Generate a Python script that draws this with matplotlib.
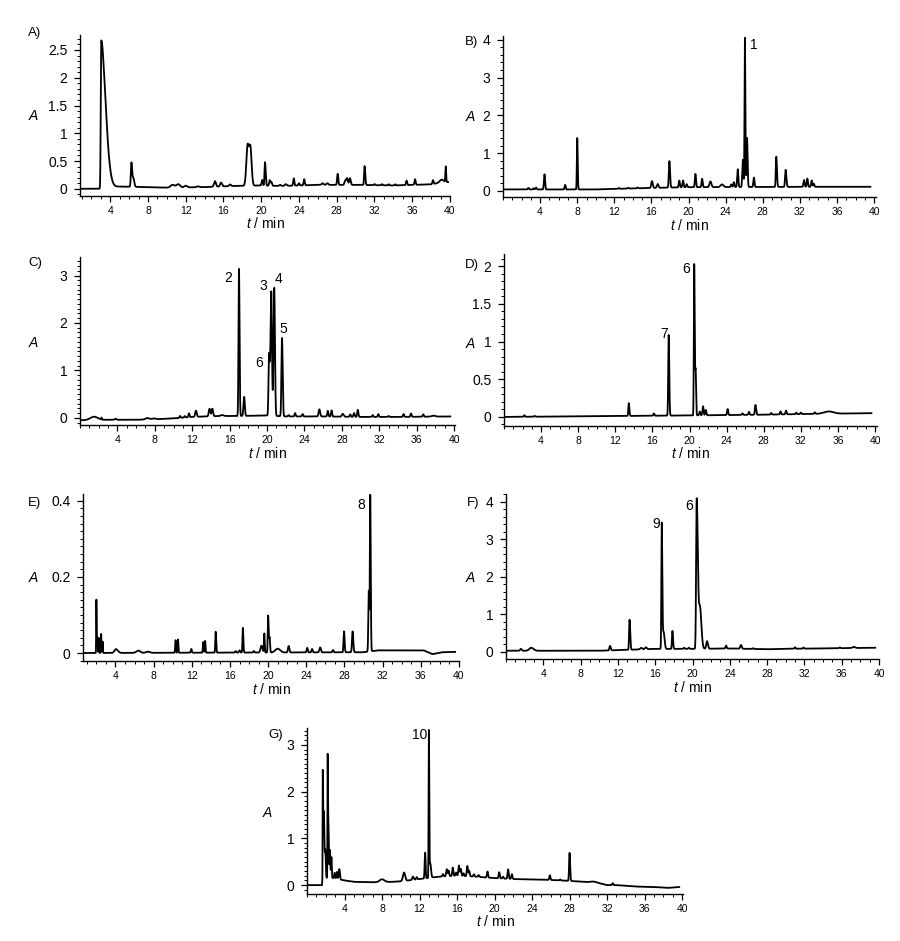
import numpy as np
import matplotlib
matplotlib.use("Agg")
import matplotlib.pyplot as plt
from matplotlib.ticker import MultipleLocator, FuncFormatter

plt.rcParams['font.family'] = ['Liberation Sans', 'DejaVu Sans']
plt.rcParams['mathtext.fontset'] = 'custom'
plt.rcParams['mathtext.it'] = 'Liberation Sans:italic'
plt.rcParams['mathtext.rm'] = 'Liberation Sans'

# ---------------- data: peaks (time/min, height, left width, right width) ----------------
W = 0.06
peaks_A = [(3.05, 2.62, 0.05, 0.35), (3.6, 0.5, 0.2, 0.35), (6.25, 0.44, 0.06, 0.08), (6.45, 0.15, 0.06, 0.1),
           (10.6, 0.05, 0.2, 0.2), (11.2, 0.06, 0.2, 0.2), (12.0, 0.03, 0.15, 0.15), (13.3, 0.015, 0.15, 0.15),
           (15.1, 0.1, 0.1, 0.1), (15.75, 0.07, 0.1, 0.1), (16.7, 0.03, 0.1, 0.1),
           (18.55, 0.7, 0.13, 0.13), (18.85, 0.68, 0.13, 0.13),
           (20.1, 0.1, W, W), (20.4, 0.42, 0.05, 0.07), (20.9, 0.1, W, 0.08), (21.1, 0.06, W, W),
           (22.0, 0.02, 0.1, 0.1), (22.6, 0.03, 0.1, 0.1), (23.45, 0.13, W, W), (24.0, 0.04, W, W),
           (24.55, 0.11, W, W), (26.5, 0.03, 0.1, 0.1), (27.0, 0.03, 0.1, 0.1),
           (28.1, 0.2, W, W), (28.9, 0.08, 0.08, 0.08), (29.1, 0.12, 0.08, 0.08), (29.4, 0.12, 0.08, 0.08),
           (30.95, 0.34, 0.05, 0.07), (32.0, 0.02, W, W), (32.8, 0.02, W, W), (33.5, 0.02, W, W), (34.2, 0.02, W, W),
           (35.4, 0.08, W, W), (36.3, 0.1, W, W), (38.2, 0.07, W, W), (39.1, 0.05, 0.2, 0.2), (39.55, 0.28, 0.04, 0.04)]
baseline_A = [(0.8, 0.0), (2.9, 0.0), (3.0, 0.04), (5, 0.04), (8, 0.03), (10, 0.02), (14, 0.03), (17, 0.05),
              (20, 0.06), (22, 0.05), (26, 0.07), (30, 0.07), (34, 0.06), (38, 0.08), (39.3, 0.12), (39.8, 0.12)]

peaks_B = [(2.74, 0.04, W, W), (3.3, 0.03, W, W), (3.57, 0.05, W, W), (4.47, 0.4, W, W), (6.7, 0.12, W, W),
           (8.0, 1.36, 0.04, 0.05), (12.5, 0.02, W, W), (13.5, 0.02, W, W), (14.5, 0.02, W, W),
           (16.06, 0.18, 0.08, 0.08), (16.67, 0.1, 0.08, 0.08), (17.93, 0.7, W, 0.07), (19.0, 0.18, W, W),
           (19.4, 0.18, W, W), (19.8, 0.08, W, W), (20.74, 0.35, W, W), (21.46, 0.22, W, W),
           (22.36, 0.15, 0.1, 0.1), (23.6, 0.07, 0.15, 0.15), (24.6, 0.07, W, W), (24.88, 0.13, W, W),
           (25.3, 0.47, W, W), (25.85, 0.72, W, W), (26.07, 3.95, 0.04, 0.05), (26.3, 1.3, 0.05, 0.06),
           (27.04, 0.25, W, W), (29.45, 0.8, 0.05, 0.07), (30.46, 0.45, W, 0.08), (32.44, 0.18, W, W),
           (32.8, 0.22, W, W), (33.27, 0.17, W, W), (33.5, 0.08, W, W)]
baseline_B = [(0, 0.04), (10, 0.04), (13, 0.06), (16, 0.08), (20, 0.1), (34, 0.11), (39.6, 0.11)]

peaks_C = [(1.5, 0.07, 0.4, 0.4), (2.3, 0.04, 0.03, 0.03), (3.8, 0.02, 0.1, 0.1), (7.2, 0.03, 0.2, 0.2),
           (7.9, 0.02, 0.2, 0.2), (10.7, 0.04, W, W), (11.2, 0.03, W, W), (11.65, 0.08, W, W),
           (12.4, 0.13, 0.08, 0.08), (13.85, 0.16, 0.08, 0.08), (14.15, 0.16, 0.08, 0.08), (15.2, 0.02, 0.15, 0.15),
           (17.0, 3.1, 0.05, 0.06), (17.55, 0.4, 0.07, 0.07), (20.22, 1.3, 0.06, 0.08), (20.45, 2.6, 0.075, 0.075),
           (20.77, 2.7, 0.075, 0.075), (21.6, 1.65, W, 0.07), (22.3, 0.03, W, W), (23.0, 0.07, W, W),
           (23.8, 0.05, W, W), (25.6, 0.15, 0.08, 0.08), (26.5, 0.12, W, W), (26.9, 0.13, W, W),
           (28.1, 0.06, 0.1, 0.1), (28.9, 0.05, W, W), (29.3, 0.08, W, W), (29.7, 0.15, W, W), (31.3, 0.04, W, W),
           (31.9, 0.06, W, W), (33.0, 0.02, W, W), (34.6, 0.06, W, W), (35.4, 0.07, W, W), (36.7, 0.05, W, W),
           (37.8, 0.02, 0.2, 0.2)]
baseline_C = [(0, -0.05), (3, -0.04), (6, -0.04), (8, -0.03), (10, -0.01), (12, 0.02), (15, 0.04), (17, 0.04),
              (20, 0.05), (22, 0.03), (26, 0.03), (30, 0.02), (34, 0.02), (39.6, 0.03)]

peaks_D = [(2.2, 0.02, W, W), (3.3, 0.01, W, W), (13.45, 0.17, 0.05, W), (16.15, 0.03, W, W),
           (17.75, 1.07, 0.05, W), (20.5, 2.0, 0.04, 0.05), (20.65, 0.6, 0.05, 0.05), (21.1, 0.05, W, W),
           (21.45, 0.12, W, W), (21.75, 0.07, W, W), (24.1, 0.08, W, W), (25.7, 0.02, W, W), (26.4, 0.04, W, W),
           (27.1, 0.13, W, 0.07), (28.8, 0.02, W, W), (29.8, 0.04, W, W), (30.4, 0.05, W, W), (31.5, 0.02, W, W),
           (32.0, 0.02, W, W), (33.5, 0.02, W, W), (35.0, 0.03, 0.5, 0.5)]
baseline_D = [(0, 0.0), (10, 0.01), (20, 0.02), (28, 0.03), (33, 0.04), (39.6, 0.05)]

peaks_E = [(2.0, 0.14, 0.02, 0.03), (2.1, 0.04, 0.03, 0.03), (2.25, 0.04, 0.03, 0.03), (2.5, 0.05, 0.03, 0.03),
           (2.65, 0.03, 0.03, 0.03), (4.05, 0.01, 0.15, 0.2), (6.4, 0.006, 0.2, 0.2), (7.4, 0.003, 0.2, 0.2),
           (10.3, 0.033, 0.04, 0.04), (10.55, 0.035, 0.04, 0.04), (11.95, 0.01, 0.05, 0.05),
           (13.2, 0.028, 0.04, 0.04), (13.4, 0.031, 0.04, 0.04), (14.5, 0.055, 0.04, 0.05), (16.6, 0.004, W, W),
           (17.0, 0.006, W, W), (17.35, 0.065, 0.04, 0.05), (18.5, 0.004, W, W), (19.3, 0.018, 0.1, 0.1),
           (19.6, 0.05, 0.04, 0.04), (20.0, 0.097, 0.04, 0.05), (20.15, 0.04, 0.05, 0.05), (21.0, 0.01, 0.25, 0.25),
           (22.15, 0.017, 0.07, 0.07), (24.1, 0.012, W, W), (24.6, 0.009, W, W), (25.45, 0.013, 0.08, 0.08),
           (26.8, 0.006, W, W), (27.95, 0.055, 0.05, W), (28.85, 0.055, W, 0.07), (30.55, 0.16, 0.05, 0.05),
           (30.7, 0.41, 0.04, 0.05)]
baseline_E = [(0.6, 0.0), (30, 0.002), (31.5, 0.007), (36.3, 0.007), (37.2, -0.003), (38.2, 0.002), (39.6, 0.003)]

peaks_F = [(1.6, 0.05, 0.08, 0.08), (2.7, 0.08, 0.2, 0.25), (11.15, 0.12, W, 0.08), (13.25, 0.8, 0.05, 0.07),
           (14.5, 0.04, 0.1, 0.1), (15.0, 0.05, 0.1, 0.1), (16.7, 3.35, 0.04, W), (16.9, 0.45, 0.08, 0.1),
           (17.85, 0.48, 0.05, W), (19.1, 0.03, W, W), (19.6, 0.03, W, W), (20.45, 4.0, 0.06, 0.12),
           (20.8, 1.1, 0.12, 0.15), (21.55, 0.2, 0.08, 0.1), (23.6, 0.08, W, W), (25.2, 0.1, 0.08, 0.08),
           (26.5, 0.02, W, W), (31.0, 0.04, W, W), (31.9, 0.03, W, W), (35.8, 0.02, W, W), (37.3, 0.03, 0.15, 0.15)]
baseline_F = [(0, 0.03), (10, 0.03), (16, 0.08), (20, 0.08), (24, 0.09), (28, 0.07), (30, 0.08), (39.6, 0.11)]

peaks_G = [(1.68, 2.3, 0.015, 0.04), (1.8, 1.4, 0.04, 0.05), (1.95, 0.6, 0.05, 0.05), (2.2, 2.3, 0.02, 0.03),
           (2.28, 1.2, 0.05, 0.05), (2.45, 0.6, 0.04, 0.04), (2.6, 0.45, 0.04, 0.04), (2.95, 0.12, 0.05, 0.05),
           (3.2, 0.15, 0.05, 0.05), (3.45, 0.22, W, W), (8.0, 0.06, 0.25, 0.25), (10.35, 0.18, 0.12, 0.12),
           (11.3, 0.07, 0.08, 0.08), (11.7, 0.05, W, W), (12.6, 0.55, 0.05, 0.05), (13.0, 3.15, 0.03, 0.04),
           (13.15, 0.3, W, 0.08), (14.5, 0.05, W, W), (14.9, 0.15, W, W), (15.1, 0.12, W, W), (15.55, 0.18, W, W),
           (15.9, 0.07, W, W), (16.2, 0.22, W, W), (16.4, 0.15, W, W), (16.7, 0.06, W, W), (17.1, 0.22, W, W),
           (17.3, 0.12, W, W), (17.8, 0.05, W, W), (18.3, 0.04, W, W), (19.25, 0.13, W, W), (20.5, 0.13, W, W),
           (20.9, 0.04, W, W), (21.45, 0.2, W, W), (21.85, 0.1, W, W), (25.9, 0.1, W, W), (27.0, 0.02, W, W),
           (28.0, 0.6, 0.05, W), (30.5, 0.02, 0.3, 0.3), (32.6, 0.04, W, W)]
baseline_G = [(0, 0.0), (1.6, 0.0), (1.65, 0.15), (2.8, 0.15), (4, 0.1), (5, 0.07), (7, 0.06), (9, 0.07),
              (10, 0.08), (12, 0.13), (14, 0.18), (16, 0.2), (18, 0.18), (20, 0.15), (22, 0.13), (24, 0.12),
              (26, 0.11), (28, 0.09), (29.5, 0.07), (31, 0.05), (32, 0.0), (33, 0.0), (35, -0.03), (37, -0.04),
              (38.5, -0.06), (39.7, -0.04)]

# peak number labels: (text, time, absorbance)
labels_B = [("1", 27.0, 3.85)]
labels_C = [("2", 15.8, 2.94), ("3", 19.55, 2.77), ("4", 21.26, 2.93), ("5", 21.76, 1.87), ("6", 19.2, 1.16)]
labels_D = [("7", 17.25, 1.1), ("6", 19.65, 1.96)]
labels_E = [("8", 29.75, 0.39)]
labels_F = [("9", 16.1, 3.41), ("6", 19.68, 3.9)]
labels_G = [("10", 11.98, 3.21)]

panel_names = ["A)", "B)", "C)", "D)", "E)", "F)", "G)"]
x_ticks = [4, 8, 12, 16, 20, 24, 28, 32, 36, 40]
y_ticks_A = [0, 0.5, 1, 1.5, 2, 2.5]
y_ticks_B = [0, 1, 2, 3, 4]
y_ticks_C = [0, 1, 2, 3]
y_ticks_D = [0, 0.5, 1, 1.5, 2]
y_ticks_E = [0, 0.2, 0.4]
y_ticks_F = [0, 1, 2, 3, 4]
y_ticks_G = [0, 1, 2, 3]

# ---------------- layout (pixels) ----------------
FW, FH = 900, 941
fig = plt.figure(figsize=(FW / 100, FH / 100), dpi=100)


def trace(peaks, baseline, t0, t1):
    t = np.arange(t0, t1, 0.004)
    bt, bv = zip(*baseline)
    y = np.interp(t, bt, bv)
    for (c, h, wl, wr) in peaks:
        s = np.where(t < c, wl, wr)
        y = y + h * np.exp(-0.5 * ((t - c) / s) ** 2)
    return t, y


panels = [
    # name, peaks, baseline, labels, yticks, minor, box(l, r, top, bottom), xlim, ylim, A-label pos, trace range, name pos
    (panel_names[0], peaks_A, baseline_A, [], y_ticks_A, 0.1, (80, 450, 35, 196), (0.8, 40.0), (-0.13, 2.77), (33, 116), (0.8, 39.8), (28, 33)),
    (panel_names[1], peaks_B, baseline_B, labels_B, y_ticks_B, 0.2, (503, 876, 36, 197), (0, 40.2), (-0.16, 4.1), (470, 117), (0.0, 39.6), (465, 42)),
    (panel_names[2], peaks_C, baseline_C, labels_C, y_ticks_C, 0.1, (80, 455, 257, 425), (0, 40.1), (-0.15, 3.39), (33, 343), (0.0, 39.6), (28, 263)),
    (panel_names[3], peaks_D, baseline_D, labels_D, y_ticks_D, 0.1, (504, 877, 254, 426), (0, 40.2), (-0.12, 2.16), (470, 344), (0.0, 39.6), (465, 265)),
    (panel_names[4], peaks_E, baseline_E, labels_E, y_ticks_E, 0.02, (83, 459, 494, 661), (0.6, 40.0), (-0.021, 0.418), (33, 578), (0.6, 39.6), (28, 503)),
    (panel_names[5], peaks_F, baseline_F, labels_F, y_ticks_F, 0.2, (506, 879, 494, 659), (0, 40.0), (-0.19, 4.21), (470, 578), (0.0, 39.6), (467, 503)),
    (panel_names[6], peaks_G, baseline_G, labels_G, y_ticks_G, 0.1, (307, 683, 728, 894), (0, 40.1), (-0.19, 3.36), (267, 813), (0.0, 39.7), (268, 735)),
]

fmt = FuncFormatter(lambda v, p: f"{v:g}")

for (name, pk, bl, labs, yt, ymin, box, xl, yl, apos, tr, npos) in panels:
    l, r, top, bot = box
    ax = fig.add_axes([l / FW, 1 - bot / FH, (r - l) / FW, (bot - top) / FH])
    t, y = trace(pk, bl, tr[0], tr[1])
    ax.plot(t, y, color='black', lw=1.3)
    ax.set_xlim(*xl)
    ax.set_ylim(*yl)
    for s in ['top', 'right']:
        ax.spines[s].set_visible(False)
    for s in ['left', 'bottom']:
        ax.spines[s].set_linewidth(1.0)
    ax.set_xticks(x_ticks)
    ax.xaxis.set_minor_locator(MultipleLocator(1))
    ax.set_yticks(yt)
    ax.yaxis.set_minor_locator(MultipleLocator(ymin))
    ax.yaxis.set_major_formatter(fmt)
    ax.tick_params(axis='x', which='major', length=4, width=0.9, labelsize=7.5, pad=3)
    ax.tick_params(axis='x', which='minor', length=2, width=0.7)
    ax.tick_params(axis='y', which='major', length=4, width=0.9, labelsize=10, pad=5)
    ax.tick_params(axis='y', which='minor', length=2, width=0.7)
    for (txt, lt, ly) in labs:
        ax.text(lt, ly, txt, fontsize=10, ha='center', va='center')
    fig.text(apos[0] / FW, 1 - apos[1] / FH, "A", fontsize=10, style='italic', ha='center', va='center')
    fig.text(npos[0] / FW, 1 - npos[1] / FH, name, fontsize=9.5, ha='left', va='center')
    fig.text(((l + r) / 2) / FW, 1 - (bot + 28) / FH, r"$t$ / min", fontsize=10, ha='center', va='center')

fig.savefig("out.png", dpi=100)
